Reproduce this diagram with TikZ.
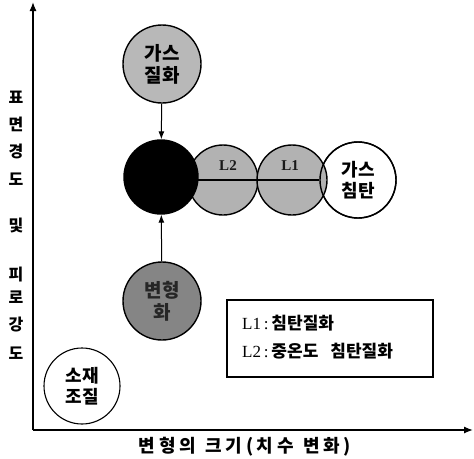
\documentclass[tikz,border=0pt]{standalone}
\usepackage{fontspec}
\setmainfont{Liberation Serif}
\newfontfamily\kr{Noto Sans CJK KR}
\newfontfamily\krwide{Noto Sans CJK KR}[LetterSpace=20]
\usetikzlibrary{arrows.meta}
\begin{document}
\begin{tikzpicture}[x=1pt,y=-1pt,
  ax/.style={line width=1.3pt,-{Latex[length=9pt,width=7pt]}},
  conn/.style={line width=1pt,-{Latex[length=8pt,width=6pt]}},
  lab/.style={font=\kr\bfseries\fontsize{16}{18}\selectfont, inner sep=0pt},
  circ/.style={circle, draw, line width=1.4pt, minimum size=78pt, inner sep=0pt, align=center,
    font=\kr\bfseries\fontsize{19}{22}\selectfont}
]
\useasboundingbox (0,0) rectangle (474,458);
% axes
\coordinate (o) at (33,430);
\coordinate (ytop) at (33,2);
\coordinate (xend) at (473,430);
\draw[ax] (o) -- (ytop);
\draw[ax] (o) -- (xend);
% y label
\node[lab] (y1) at (16,97) {표};
\node[lab] (y2) at (16,124) {면};
\node[lab] (y3) at (16,151) {경};
\node[lab] (y4) at (16,179) {도};
\node[lab] (y5) at (16,225) {및};
\node[lab] (y6) at (16,275) {피};
\node[lab] (y7) at (16,297) {로};
\node[lab] (y8) at (16,325) {강};
\node[lab] (y9) at (16,353) {도};
% x label
\node[lab, font=\krwide\bfseries\fontsize{18}{20}\selectfont] (xl) at (245,447) {변형의\hspace{10pt}크기(치수\hspace{10pt}변화)};
% circles
\node[circ, fill=black!28] (gn) at (162,64) {가스\\질화};
\node[circ, fill=white, minimum size=76pt, font=\kr\bfseries\fontsize{18}{21}\selectfont] (gc) at (358,180) {가스\\침탄};
\node[circ, fill=black!30, minimum size=70pt] (l2) at (223,180) {};
\node[circ, fill=black!30, minimum size=70pt] (l1) at (292,180) {};
\draw[line width=1.4pt] (gc.center) circle[radius=38pt];
\draw[line width=1.8pt] (l2.west) -- (gc.west);
\node[font=\bfseries\fontsize{15}{17}\selectfont, text=black!90] (t2) at (228,166) {L2};
\node[font=\bfseries\fontsize{15}{17}\selectfont, text=black!90] (t1) at (290,166) {L1};
\node[circ, fill=black, minimum size=74pt] (bc) at (161,177) {};
\node[circ, fill=black!48, text=black!85] (bh) at (162,301) {변형\\화};
\draw[conn] (gn) -- (bc);
\draw[conn] (bh) -- (bc);
% legend
\node[draw, line width=1.2pt, minimum width=206pt, minimum height=77pt, inner sep=0pt] (lg) at (330,338.5) {};
\node[anchor=west, inner sep=0pt, font=\fontsize{17}{19}\selectfont] (lg1) at (242,323) {L1\,:\,{\kr\bfseries\fontsize{17}{19}\selectfont 침탄질화}};
\node[anchor=west, inner sep=0pt, font=\fontsize{17}{19}\selectfont] (lg2) at (242,351) {L2\,:\,{\kr\bfseries\fontsize{17}{19}\selectfont 중온도\hspace{12pt}침탄질화}};
% material
\node[circ, line width=1.1pt, minimum size=76pt, font=\kr\bfseries\fontsize{18}{21}\selectfont] (sj) at (82,386) {소재\\조질};
\end{tikzpicture}
\end{document}
